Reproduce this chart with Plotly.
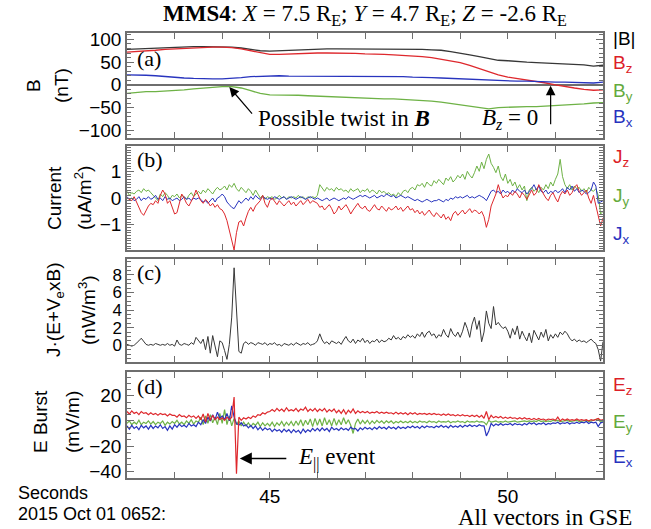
import numpy as np
import plotly.graph_objects as go

# ---------------- data ----------------
T_START, T_END = 42.0, 52.0

# Panel (a): magnetic field, nT (0.2 s samples)
B_mag = [78, 79, 79, 80, 81, 82, 83, 84, 84, 84, 84, 83, 81, 78, 75, 74, 75, 76, 77, 78,
         78, 79, 79, 79, 79, 79, 79, 79, 78, 78, 78, 78, 77, 76, 73, 70, 66, 62, 58, 54,
         53, 51, 50, 49, 48, 47, 46, 45, 44, 41, 43]
B_z = [72, 73, 74, 76, 78, 79, 81, 82, 83, 83, 83, 82, 79, 75, 70, 67, 67, 68, 69, 70,
       70, 70, 70, 69, 69, 68, 68, 67, 66, 65, 64, 62, 60, 56, 53, 49, 43, 36, 29, 22,
       17, 14, 11, 8, 4, 0, -4, -7, -10, -12, -11]
B_y = [-19, -17, -15, -15, -14, -13, -11, -9, -7, -5, -4, -4, -7, -13, -19, -22, -22, -23, -23, -24,
       -25, -25, -26, -27, -28, -29, -30, -31, -31, -32, -33, -34, -36, -38, -41, -44, -48, -51, -53, -50,
       -49, -49, -48, -48, -47, -46, -45, -44, -42, -40, -39]
B_x = [22, 22, 21, 20, 18, 16, 15, 14, 13, 13, 13, 14, 16, 18, 19, 20, 20, 19, 19, 19,
       19, 19, 19, 19, 19, 19, 19, 18, 18, 18, 17, 17, 16, 15, 14, 13, 12, 11, 10, 9,
       9, 8, 8, 7, 7, 6, 6, 5, 5, 4, 6]

# Panel (b): current density, uA/m^2 (0.05 s samples)
J_z = [0.0, -0.05, -0.1, 0.05, -0.15, -0.3, -0.55, -0.65, -0.45, -0.3,
       -0.2, -0.25, -0.1, -0.2, 0.1, 0.3, 0.15, -0.2, -0.1, -0.35,
       -0.6, -0.55, -0.2, 0.15, 0.0, -0.2, -0.3, -0.15, 0.05, 0.3,
       0.1, -0.1, -0.2, -0.05, -0.15, -0.3, -0.2, -0.35, -0.25, -0.4,
       -0.45, -0.6, -0.85, -1.2, -1.5, -1.95, -1.3, -0.9, -0.85, -1.05,
       -0.75, -0.5, -0.35, -0.5, -0.3, -0.2, -0.1, 0.1, -0.2, -0.35,
       -0.1, 0.0, -0.15, -0.25, -0.1, -0.2, -0.3, -0.2, -0.1, -0.25,
       -0.15, -0.3, -0.2, -0.1, -0.25, -0.15, -0.05, -0.2, -0.1, -0.15,
       -0.2, -0.35, -0.3, -0.45, -0.35, -0.25, -0.4, -0.6, -0.5, -0.3,
       -0.45, -0.35, -0.25, -0.4, -0.6, -0.45, -0.3, -0.2, -0.35, -0.4,
       -0.3, -0.45, -0.5, -0.35, -0.25, -0.4, -0.45, -0.3, -0.4, -0.5,
       -0.35, -0.45, -0.4, -0.3, -0.45, -0.35, -0.5, -0.4, -0.3, -0.45,
       -0.4, -0.55, -0.45, -0.6, -0.5, -0.65, -0.55, -0.45, -0.6, -0.7,
       -0.55, -0.65, -0.75, -0.6, -0.8, -0.7, -0.85, -0.6, -0.5, -0.65,
       -0.55, -0.45, -0.6, -0.5, -0.4, -0.55, -0.45, -0.5, -0.6, -0.5,
       -0.7, -1.1, -0.8, -0.3, -0.1, 0.15, 0.5, 0.2, 0.0, 0.1,
       0.05, 0.2, 0.1, 0.25, 0.15, 0.0, 0.2, 0.1, -0.05, 0.15,
       0.3, 0.1, 0.2, 0.5, 0.3, 0.15, 0.0, -0.1, 0.1, 0.2,
       0.0, -0.15, 0.1, 0.25, 0.15, 0.3, 0.1, 0.2, 0.4, 0.5,
       0.25, 0.1, 0.2, 0.3, 0.0, -0.2, 0.1, -0.3, -0.6, -1.05,
       -0.75]
J_y = [0.25, 0.1, 0.2, 0.15, 0.25, 0.3, 0.2, 0.35, 0.25, 0.3,
       0.2, 0.1, 0.0, -0.1, 0.15, 0.05, 0.2, 0.1, -0.05, 0.1,
       0.05, 0.15, 0.0, 0.1, 0.05, -0.05, 0.1, 0.2, 0.05, 0.15,
       0.25, 0.15, 0.3, 0.2, 0.35, 0.25, 0.15, 0.3, 0.4, 0.3,
       0.35, 0.45, 0.3, 0.5, 0.4, 0.55, 0.35, 0.25, 0.4, 0.3,
       0.2, 0.35, 0.25, 0.1, 0.3, 0.15, 0.0, 0.1, -0.05, 0.05,
       0.0, 0.05, -0.05, 0.0, 0.1, 0.0, 0.05, -0.05, 0.05, 0.0,
       0.05, 0.0, 0.1, 0.0, 0.05, -0.05, 0.05, 0.0, 0.05, 0.0,
       0.1, 0.5, 0.35, 0.25, 0.4, 0.3, 0.35, 0.25, 0.4, 0.3,
       0.35, 0.25, 0.3, 0.2, 0.35, 0.25, 0.3, 0.35, 0.2, 0.3,
       0.25, 0.35, 0.2, 0.3, 0.25, 0.15, 0.3, 0.2, 0.25, 0.15,
       0.2, 0.1, 0.15, 0.05, 0.2, 0.1, 0.25, 0.3, 0.2, 0.35,
       0.4, 0.3, 0.5, 0.45, 0.55, 0.4, 0.6, 0.5, 0.45, 0.65,
       0.55, 0.7, 0.6, 0.5, 0.75, 0.65, 0.8, 0.6, 0.7, 0.85,
       0.75, 0.9, 0.7, 1.0, 0.85, 0.75, 0.95, 1.2, 1.0, 1.35,
       1.1, 1.45, 1.65, 1.3, 1.15, 0.95, 1.2, 0.8, 0.65, 0.9,
       0.55, 0.7, 0.45, 0.6, 0.35, 0.5, 0.3, 0.45, -0.1, 0.3,
       0.4, 0.25, 0.35, 0.2, 0.4, 0.3, 0.5, 0.35, 0.6, 0.45,
       0.7, 0.9, 1.45, 0.8, 0.5, 0.35, 0.5, 0.3, 0.45, 0.35,
       0.4, 0.25, 0.35, 0.2, 0.4, 0.3, 0.25, 0.35, 0.1, -0.6,
       -0.5]
J_x = [0.05, -0.05, 0.0, -0.1, -0.05, 0.05, -0.1, 0.0, -0.05, 0.05,
       -0.05, 0.0, 0.1, -0.05, 0.0, -0.1, 0.05, -0.05, 0.0, -0.1,
       -0.05, 0.0, -0.1, -0.05, 0.05, -0.05, 0.0, -0.1, 0.0, -0.05,
       0.0, -0.05, -0.15, -0.1, -0.2, -0.1, 0.0, -0.15, 0.0, 0.05,
       0.15, 0.05, -0.15, -0.25, -0.35, -0.4, -0.25, -0.1, -0.2, -0.1,
       0.0, -0.1, 0.05, -0.05, 0.1, 0.0, -0.05, 0.05, 0.0, -0.05,
       0.0, -0.05, 0.05, 0.0, -0.05, 0.0, 0.05, -0.05, 0.0, 0.05,
       0.0, -0.05, 0.0, 0.05, 0.0, -0.05, 0.0, 0.05, 0.0, -0.05,
       0.0, -0.05, -0.1, -0.05, 0.0, -0.1, -0.05, 0.0, -0.05, -0.1,
       -0.05, 0.0, -0.05, 0.05, 0.0, -0.05, 0.0, 0.05, 0.1, 0.05,
       0.1, 0.05, 0.0, 0.05, 0.1, 0.0, 0.05, 0.1, 0.05, 0.15,
       0.1, 0.05, 0.1, 0.0, 0.05, 0.1, 0.05, 0.0, 0.05, 0.0,
       -0.05, -0.1, -0.05, -0.1, -0.15, -0.1, -0.05, -0.1, -0.15, -0.1,
       -0.1, -0.05, -0.1, -0.15, -0.05, -0.1, 0.0, -0.05, 0.05, 0.0,
       0.05, 0.0, 0.05, 0.1, 0.0, 0.05, 0.0, 0.05, 0.1, 0.05,
       0.0, -0.1, 0.1, 0.25, 0.3, 0.2, 0.25, 0.15, 0.3, 0.2,
       0.25, 0.15, 0.3, 0.2, 0.35, 0.25, 0.2, 0.3, 0.15, 0.25,
       0.35, 0.5, 0.3, 0.45, 0.25, 0.2, 0.3, 0.15, 0.25, 0.2,
       0.3, 0.2, 0.25, 0.35, 0.2, 0.4, 0.3, 0.45, 0.25, 0.35,
       0.2, 0.3, 0.25, 0.15, 0.2, 0.3, 0.6, 0.45, -0.2, -0.15,
       -0.1]

# Panel (c): J.(E+Ve x B), nW/m^3 (0.05 s samples)
JdotE = [0.1, 0.0, -0.1, 0.0, 0.2, 0.5, 0.8, 0.4, 0.1, 0.0,
         0.1, 0.0, 0.2, 0.1, 0.0, 0.1, 0.0, 0.2, 0.0, 0.1,
         -0.1, 0.6, 0.1, 0.0, 0.2, 0.1, 0.0, 0.3, 0.1, 0.9,
         0.5, 0.2, 0.7, -0.5, 1.0, -0.9, 1.1, -0.3, -1.3, 0.5,
         0.3, -0.6, -1.6, 0.1, 3.2, 8.8, 3.5, -0.7, -0.9, 0.2,
         0.4, 0.1, 0.3, 0.2, 0.0, 0.3, 0.2, 0.1, 0.3, 0.0,
         0.2, 0.1, 0.3, 0.0, 0.1, -0.1, 0.2, 0.1, 0.0, 0.2,
         0.0, 0.3, 0.1, 0.0, 0.2, 0.1, 0.3, 0.0, 0.1, 0.2,
         0.5, 1.3, 0.6, 0.2, 0.4, 0.1, 0.5, 0.3, 0.2, 0.4,
         0.1, 0.6, 1.0, 0.5, 0.3, 0.7, 0.2, 0.6, 0.4, 0.8,
         0.3, 0.6, 0.2, 0.5, 0.4, 0.7, 0.3, 0.6, 0.4, 0.5,
         0.8, 0.6, 1.1, 0.7, 0.9, 0.6, 1.0, 0.8, 1.2, 0.9,
         1.1, 0.8, 1.3, 1.0, 1.5, 0.9, 1.4, 1.6, 1.1, 1.3,
         0.8, 1.2, 1.0, 1.8, 1.2, 0.9, 1.9, 1.3, 1.0, 1.5,
         0.9, 1.6, 2.6, 1.9, 0.9, 2.4, 3.2, 1.8, 2.8, 0.4,
         1.5, 3.9, 2.5, 1.9, 4.4, 2.3, 2.6, 2.2, 1.9, 2.1,
         1.6, 0.8, 1.9, 1.2, 2.2, 0.7, 1.6, 1.0, 0.5, 1.4,
         0.3, 1.7, 1.1, 0.6, 1.5, 0.9, 1.8, 0.5, 1.2, 0.8,
         1.3, 0.9, 1.5, 1.2, 1.6, 1.3, 0.8, 0.5, 0.7, 0.4,
         0.6, 0.4, 0.5, 0.3, 0.5, 0.7, 0.4, 0.2, -0.5, -1.8,
         0.4]

# Panel (d): burst electric field, mV/m (0.05 s samples)
E_z = [7.5, 5.5, 8.0, 6.0, 7.0, 5.0, 7.5, 6.0, 6.5, 5.0,
       6.5, 5.0, 6.0, 4.5, 6.0, 5.0, 5.5, 4.0, 5.5, 4.5,
       4.5, 3.0, 5.0, 3.5, 4.0, 2.5, 4.5, 3.0, 4.0, 2.0,
       4.0, 1.0, 5.5, -1.0, 6.0, 0.5, 4.5, 1.0, 3.0, 1.0,
       2.5, 0.5, 3.0, 1.0, 3.0, 19.0, -42.0, 3.0, 0.5, 2.5,
       1.5, 3.0, 2.0, 4.0, 3.0, 5.0, 4.5, 6.5, 5.5, 7.0,
       7.5, 9.0, 7.5, 10.0, 8.0, 9.5, 7.5, 10.5, 8.0, 9.0,
       8.0, 10.0, 7.5, 9.5, 8.5, 11.0, 7.5, 9.5, 8.0, 10.0,
       7.5, 9.5, 8.0, 10.0, 7.0, 9.0, 7.5, 9.5, 6.5, 8.5,
       6.0, 9.0, 5.5, 8.5, 6.5, 9.5, 6.0, 8.0, 6.5, 7.5,
       6.5, 7.5, 6.0, 7.0, 6.5, 7.5, 6.0, 7.0, 6.0, 7.0,
       6.0, 6.5, 5.5, 7.0, 5.5, 6.5, 5.5, 6.5, 5.0, 6.5,
       5.5, 6.5, 5.0, 6.0, 5.5, 6.0, 5.0, 6.0, 5.0, 6.0,
       5.0, 5.5, 4.5, 5.5, 4.5, 5.5, 4.5, 5.0, 4.0, 5.0,
       4.0, 5.0, 4.0, 4.5, 3.5, 4.5, 3.5, 4.5, 3.0, 4.5,
       2.0, 7.5, 1.0, 4.5, 2.5, 3.5, 2.5, 3.5, 2.0, 3.0,
       2.0, 3.0, 2.0, 2.5, 1.5, 2.5, 1.5, 2.5, 1.5, 2.0,
       1.0, 2.0, 1.0, 2.0, 1.0, 1.5, 0.5, 1.5, 1.0, 1.5,
       0.5, 3.0, 0.0, 1.5, 0.5, 1.5, 0.5, 1.0, 0.5, 1.5,
       0.5, 1.0, 0.5, 1.0, 0.0, 1.0, 0.5, 1.0, 2.0, 0.5,
       1.0]
E_y = [-2.0, 0.0, -3.0, -1.0, -2.5, 0.5, -3.0, -1.0, -2.0, 0.0,
       -2.5, -0.5, -3.0, -1.0, -2.0, 0.0, -3.5, -1.0, -2.5, -0.5,
       -2.0, 0.5, -2.5, -1.0, -3.0, 0.0, -2.0, 1.0, -2.5, 0.0,
       -1.0, 3.0, -3.0, 4.0, -2.0, 5.0, -1.5, 3.0, -3.0, 6.0,
       -2.0, 9.0, -3.0, 4.0, -4.0, 2.0, -3.0, 0.0, -4.0, -1.0,
       -4.0, -1.5, -4.5, -2.0, -3.5, -1.0, -4.5, -1.5, -4.0, -2.0,
       -4.0, -1.0, -4.5, -1.5, -3.5, -0.5, -4.0, -1.0, -3.5, -0.5,
       -4.0, 0.0, -3.5, 1.0, -4.0, 0.5, -3.0, 1.5, -4.5, 2.0,
       -3.5, 1.5, -4.0, 2.5, -3.0, 1.0, -4.0, 2.0, -3.5, 1.0,
       -3.0, 2.5, -2.5, 1.0, -3.5, -10.0, -2.0, 1.5, -2.5, 0.5,
       -2.0, 0.5, -2.5, 0.0, -2.0, 0.5, -1.5, 0.0, -2.0, 0.0,
       -1.5, 0.0, -2.0, -0.5, -1.5, 0.0, -1.5, -0.5, -1.5, 0.0,
       -1.5, -0.5, -1.5, 0.0, -1.0, -0.5, -1.5, 0.0, -1.0, -0.5,
       -1.5, 0.0, -1.0, -0.5, -1.0, 0.0, -1.5, -0.5, -1.0, 0.0,
       -1.0, -0.5, -1.5, 0.0, -1.0, -0.5, -1.0, 0.0, -1.0, -0.5,
       -1.0, -3.0, 0.5, -1.0, -0.5, 0.0, -1.0, -0.5, -1.0, 0.0,
       -1.0, -0.5, -0.5, 0.0, -1.0, -0.5, -0.5, 0.0, -0.5, 0.0,
       -0.5, 0.0, -0.5, 0.5, -0.5, 0.0, -0.5, 0.0, -0.5, 0.5,
       0.0, 0.5, -0.5, 0.0, 0.0, 0.5, -0.5, 0.0, 0.0, 0.5,
       -0.5, 0.0, 0.0, 0.5, -0.5, 0.0, 0.0, 0.5, 1.5, -1.0,
       0.0]
E_x = [-4.0, -6.5, -3.5, -6.0, -4.5, -7.0, -3.5, -5.5, -4.0, -6.5,
       -3.5, -6.0, -4.0, -5.5, -3.0, -6.0, -4.5, -7.5, -4.0, -6.5,
       -3.0, -5.0, -2.5, -4.5, -3.5, -5.0, -2.0, -4.0, -3.0, -4.5,
       -1.0, -3.0, 1.0, -2.0, 3.0, 0.0, 5.0, 1.0, 7.0, 2.0,
       4.0, 1.0, 6.0, 0.0, 12.0, 3.0, -2.0, -3.5, -1.5, -4.0,
       -3.0, -5.5, -3.5, -6.0, -4.0, -7.0, -5.0, -7.5, -5.5, -7.0,
       -6.0, -8.5, -6.5, -8.0, -7.0, -9.0, -6.5, -8.5, -7.0, -9.5,
       -7.0, -9.0, -7.5, -10.0, -6.5, -9.0, -7.0, -8.5, -6.0, -8.0,
       -6.0, -8.0, -5.5, -7.5, -6.0, -8.5, -5.0, -7.0, -6.0, -7.5,
       -5.5, -7.0, -6.0, -7.5, -5.0, -6.5, -6.0, -8.0, -5.5, -7.0,
       -5.0, -6.5, -5.5, -7.0, -5.0, -6.5, -4.5, -6.0, -5.0, -6.5,
       -4.5, -6.0, -5.0, -6.5, -4.5, -6.0, -5.0, -6.0, -4.5, -5.5,
       -4.0, -5.5, -4.5, -6.0, -4.0, -5.5, -4.0, -5.0, -4.5, -5.5,
       -4.0, -5.0, -3.5, -5.0, -4.0, -5.5, -3.5, -5.0, -4.0, -5.0,
       -3.5, -5.0, -3.5, -4.5, -3.0, -4.5, -3.5, -4.5, -3.0, -4.0,
       -4.0, -12.0, -8.0, -2.0, -4.0, -2.5, -3.5, -2.0, -3.5, -2.5,
       -3.0, -2.0, -3.5, -2.0, -3.0, -2.5, -3.5, -2.0, -3.0, -1.5,
       -2.5, -1.5, -3.0, -2.0, -2.5, -1.5, -3.0, -2.0, -2.5, -1.5,
       -2.0, -1.0, -2.5, -1.5, -2.0, -1.0, -2.5, -1.5, -2.0, -1.0,
       -2.0, -1.0, -1.5, -0.5, -2.0, -1.0, -1.5, -1.0, -4.5, -1.5,
       -1.0]

X_TICKS = list(range(42, 53))
X_TICK_TEXT = ["45" if v == 45 else ("50" if v == 50 else "") for v in X_TICKS]

# sample times
t_B = np.linspace(T_START, T_END, len(B_mag))
t_J = np.linspace(T_START, T_END, len(J_z))
t_E = np.linspace(T_START, T_END, len(E_z))

# ---------------- styling ----------------
RED = "rgb(222,40,45)"
GREEN = "rgb(110,178,70)"
BLUE = "rgb(40,52,190)"
BLACK = "rgb(55,55,55)"
LRED = "rgb(220,30,40)"
LGREEN = "rgb(100,170,60)"
LBLUE = "rgb(40,50,190)"
AXC = "#6e6e6e"
SANS = "Liberation Sans, Arial, Helvetica, sans-serif"
SERIF = "Liberation Serif, Times New Roman, serif"
FS = 19      # sans text size
FSER = 22    # serif text size

W, H = 651, 529
L, R, T, B = 127, 603, 33, 478


def px(x):
    return (x - L) / (R - L)


def py(y):
    return (B - y) / (B - T)


fig = go.Figure()

def add(x, y, color, ax, width=1.0):
    xa = "x" if ax == 1 else f"x{ax}"
    ya = "y" if ax == 1 else f"y{ax}"
    fig.add_trace(go.Scatter(x=x, y=y, mode="lines", line=dict(color=color, width=width),
                             xaxis=xa, yaxis=ya, showlegend=False, hoverinfo="skip"))

add(t_B, B_mag, BLACK, 1, 1.3)
add(t_B, B_z, RED, 1, 1.3)
add(t_B, B_x, BLUE, 1, 1.3)
add(t_B, B_y, GREEN, 1, 1.3)

add(t_J, J_y, GREEN, 2)
add(t_J, J_x, BLUE, 2)
add(t_J, J_z, RED, 2)

add(t_J, JdotE, BLACK, 3)

add(t_E, E_y, GREEN, 4, 1.2)
add(t_E, E_x, BLUE, 4, 1.2)
add(t_E, E_z, RED, 4, 1.2)

xcommon = dict(range=[T_START, T_END], showline=True, linecolor=AXC, linewidth=1.5,
               mirror="ticks", ticks="inside", ticklen=6, tickcolor=AXC, tickwidth=1,
               tickvals=X_TICKS, ticktext=X_TICK_TEXT, showgrid=False, zeroline=False,
               tickfont=dict(family=SANS, size=FS, color="black"), domain=[0, 1])

def yax(rng, dom, dtick, mdtick, zero=False, fsize=FS):
    return dict(range=rng, domain=dom, showline=True, linecolor=AXC, linewidth=1.5,
                mirror="allticks", ticks="inside", ticklen=7, tickcolor=AXC, tickwidth=1,
                dtick=dtick, tick0=0, showgrid=False, zeroline=zero, zerolinecolor="rgb(110,110,110)",
                zerolinewidth=1.5,
                minor=dict(ticks="inside", ticklen=4, dtick=mdtick, tick0=0, tickcolor=AXC),
                tickfont=dict(family=SANS, size=fsize, color="black"))

fig.update_layout(
    width=W, height=H, paper_bgcolor="white", plot_bgcolor="white",
    margin=dict(l=L, r=W - R, t=T, b=H - B),
    xaxis=dict(xcommon, anchor="y", showticklabels=False),
    xaxis2=dict(xcommon, anchor="y2", matches="x", showticklabels=False),
    xaxis3=dict(xcommon, anchor="y3", matches="x", showticklabels=False),
    xaxis4=dict(xcommon, anchor="y4", matches="x", showticklabels=True),
    yaxis=yax([-117, 114], [py(138), py(33)], 50, 10, zero=True),
    yaxis2=yax([-1.95, 1.95], [py(250), py(146)], 1, 0.1),
    yaxis3=yax([-1.9, 9.8], [py(362), py(259)], 2, 0.5, fsize=17),
    yaxis4=yax([-45.5, 39], [0, py(372)], 20, 5),
)

ann = []

def txt(x, y, text, size=FS, color="black", family=SANS, xanchor="center", angle=0,
        xref="paper", yref="paper"):
    ann.append(dict(x=x, y=y, xref=xref, yref=yref, text=text, showarrow=False,
                    xanchor=xanchor, yanchor="middle", textangle=angle,
                    font=dict(family=family, size=size, color=color)))

# title
txt(px(365), py(15), "<b>MMS4</b>: <i>X</i> = 7.5 R<sub>E</sub>; <i>Y</i> = 4.7 R<sub>E</sub>; "
    "<i>Z</i> = -2.6 R<sub>E</sub>", size=23, family=SERIF)

# panel letters
for yy, lab in [(58, "(a)"), (159, "(b)"), (272, "(c)"), (386, "(d)")]:
    txt(px(135), py(yy), lab, size=FSER, family=SERIF, xanchor="left")

# right labels
rl = [(38, "|B|", "black"), (64, "B<sub>z</sub>", LRED), (92, "B<sub>y</sub>", LGREEN),
      (118, "B<sub>x</sub>", LBLUE),
      (158, "J<sub>z</sub>", LRED), (197, "J<sub>y</sub>", LGREEN), (235, "J<sub>x</sub>", LBLUE),
      (386, "E<sub>z</sub>", LRED), (423, "E<sub>y</sub>", LGREEN), (458, "E<sub>x</sub>", LBLUE)]
for yy, lab, c in rl:
    txt(px(611), py(yy), lab, size=FS, color=c, xanchor="left")

# y-axis titles (two lines each)
for xx, yy, lab in [(33, 86, "B"), (61, 86, "(nT)"),
                    (54, 198, "Current"), (83, 198, "(uA/m<sup>2</sup>)"),
                    (55, 310, "J·(E+V<sub>e</sub>xB)"), (87, 310, "(nW/m<sup>3</sup>)"),
                    (40, 422, "E Burst"), (72, 422, "(mV/m)")]:
    txt(px(xx), py(yy), lab, size=FS, angle=-90)

# bottom texts
txt(px(16), py(493), "Seconds", size=18, xanchor="left")
txt(px(16), py(514), "2015 Oct 01 0652:", size=18, xanchor="left")
txt(px(634), py(517), "All vectors in GSE", size=23, family=SERIF, xanchor="right")

# annotations in panel (a)
txt(px(344), -75, "Possible twist in <b><i>B</i></b>", size=23, family=SERIF, yref="y")
txt(px(510), -75, "<i>B</i><sub><i>z</i></sub> = 0", size=23, family=SERIF, yref="y")
ann.append(dict(x=44.15, y=-5, xref="x", yref="y", text="", showarrow=True, arrowhead=2,
                arrowsize=1.6, arrowwidth=1.2, arrowcolor="black", ax=24, ay=28))
ann.append(dict(x=50.9, y=-2, xref="x", yref="y", text="", showarrow=True, arrowhead=2,
                arrowsize=1.6, arrowwidth=1.2, arrowcolor="black", ax=0, ay=40))

# annotation in panel (d)
ann.append(dict(x=44.37, y=-30, xref="x4", yref="y4", text="", showarrow=True, arrowhead=2,
                arrowsize=1.6, arrowwidth=1.5, arrowcolor="black", ax=48, ay=0))
txt(px(337), -30, "<i>E</i><sub>||</sub> event", size=23, family=SERIF, yref="y4")

fig.update_layout(annotations=ann)
fig.write_html("out.html", config={"displayModeBar": False},
               post_script="document.body.style.margin='0px';")
